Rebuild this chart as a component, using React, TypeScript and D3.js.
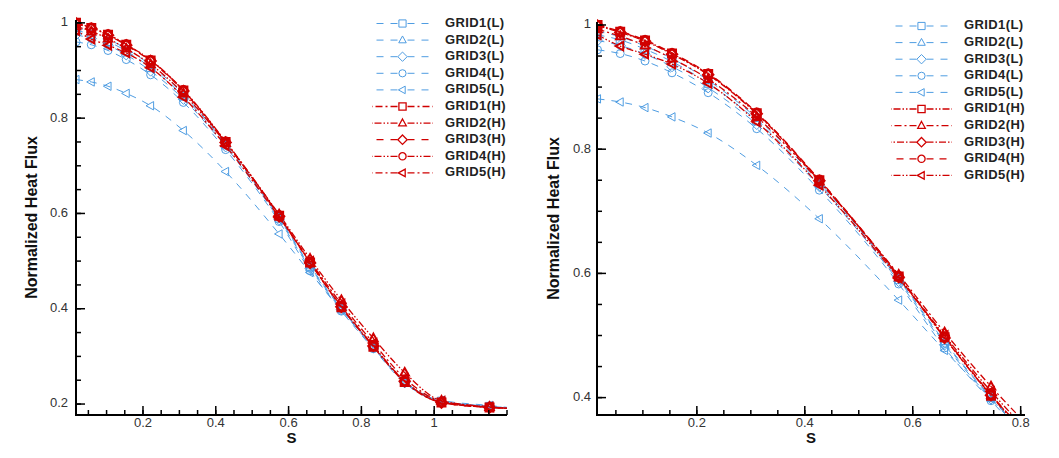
import React from "react";
import * as d3 from "d3";

// ---------- data ----------
const S = [0.016, 0.058, 0.104, 0.154, 0.221, 0.311, 0.427, 0.574, 0.659, 0.745, 0.833, 0.919, 1.02, 1.152, 1.2];

const grid1L = [0.984, 0.976, 0.961, 0.941, 0.906, 0.846, 0.744, 0.590, 0.488, 0.400, 0.320, 0.246, 0.206, 0.195, 0.192];
const grid2L = [0.990, 0.981, 0.966, 0.946, 0.911, 0.850, 0.747, 0.592, 0.490, 0.401, 0.321, 0.247, 0.206, 0.195, 0.192];
const grid3L = [0.975, 0.967, 0.953, 0.933, 0.899, 0.840, 0.740, 0.587, 0.485, 0.398, 0.318, 0.245, 0.205, 0.195, 0.192];
const grid4L = [0.960, 0.954, 0.942, 0.923, 0.891, 0.833, 0.734, 0.583, 0.480, 0.395, 0.316, 0.244, 0.205, 0.195, 0.192];
const grid5L = [0.881, 0.876, 0.867, 0.852, 0.826, 0.774, 0.688, 0.557, 0.476, 0.398, 0.320, 0.247, 0.208, 0.197, 0.193];
const grid1H = [1.000, 0.989, 0.975, 0.954, 0.921, 0.858, 0.750, 0.595, 0.497, 0.403, 0.320, 0.246, 0.203, 0.193, 0.191];
const grid2H = [0.993, 0.982, 0.967, 0.946, 0.913, 0.852, 0.748, 0.598, 0.505, 0.418, 0.338, 0.266, 0.207, 0.194, 0.191];
const grid3H = [0.999, 0.988, 0.974, 0.953, 0.920, 0.857, 0.749, 0.594, 0.496, 0.404, 0.322, 0.248, 0.203, 0.193, 0.191];
const grid4H = [1.000, 0.990, 0.976, 0.955, 0.922, 0.859, 0.751, 0.596, 0.498, 0.405, 0.322, 0.248, 0.204, 0.193, 0.191];
const grid5H = [0.984, 0.966, 0.953, 0.937, 0.906, 0.844, 0.742, 0.592, 0.500, 0.410, 0.328, 0.254, 0.206, 0.194, 0.191];

const seriesNames = ["GRID1(L)", "GRID2(L)", "GRID3(L)", "GRID4(L)", "GRID5(L)", "GRID1(H)", "GRID2(H)", "GRID3(H)", "GRID4(H)", "GRID5(H)"];
const seriesValues = [grid1L, grid2L, grid3L, grid4L, grid5L, grid1H, grid2H, grid3H, grid4H, grid5H];
const seriesMarkers = ["square", "triangle", "diamond", "circle", "ltriangle", "square", "triangle", "diamond", "circle", "ltriangle"];

const leftXTicks = [0.2, 0.4, 0.6, 0.8, 1];
const leftXLabels = ["0.2", "0.4", "0.6", "0.8", "1"];
const leftYTicks = [0.2, 0.4, 0.6, 0.8, 1];
const leftYLabels = ["0.2", "0.4", "0.6", "0.8", "1"];
const rightXTicks = [0.2, 0.4, 0.6, 0.8];
const rightXLabels = ["0.2", "0.4", "0.6", "0.8"];
const rightYTicks = [0.4, 0.6, 0.8, 1];
const rightYLabels = ["0.4", "0.6", "0.8", "1"];

// ---------- styles ----------
const BLUE = "#4f9de2";
const RED = "#d00000";
const FONT = "'Liberation Sans', Arial, sans-serif";
const blueDash = "7,7";
const leftRedDash = ["7,3,2,3", "7,2,1.5,2,1.5,2", "7,7", "7,2,1.5,2,1.5,2", "7,3,2,3"];
const rightRedDash = ["7,2,1.5,2,1.5,2", "7,3,2,3", "7,2,1.5,2", "7,6", "7,2,1.5,2,1.5,2"];

function markerPath(type: string, r: number): string {
  switch (type) {
    case "square":
      return `M${-r},${-r}H${r}V${r}H${-r}Z`;
    case "triangle":
      return `M0,${-r * 1.15}L${r * 1.05},${r * 0.75}L${-r * 1.05},${r * 0.75}Z`;
    case "diamond":
      return `M0,${-r * 1.3}L${r * 1.3},0L0,${r * 1.3}L${-r * 1.3},0Z`;
    case "ltriangle":
      return `M${-r * 1.15},0L${r * 0.75},${-r * 1.05}L${r * 0.75},${r * 1.05}Z`;
    default:
      return `M${-r},0A${r},${r} 0 1,0 ${r},0A${r},${r} 0 1,0 ${-r},0Z`;
  }
}

type PanelProps = {
  id: string;
  x0: number; x1: number; y0: number; y1: number;
  xDomain: [number, number]; yDomain: [number, number];
  xTicks: number[]; xLabels: string[]; yTicks: number[]; yLabels: string[];
  xMinorMax: number; yMinorMin: number;
  redDash: string[];
  legendX: number; legendY: number; labelGap: number; yTitleX: number;
};

function Panel(p: PanelProps) {
  const x = d3.scaleLinear().domain(p.xDomain).range([p.x0, p.x1]);
  const y = d3.scaleLinear().domain(p.yDomain).range([p.y1, p.y0]);
  const line = d3.line<[number, number]>().x((d) => x(d[0])).y((d) => y(d[1])).curve(d3.curveMonotoneX);

  const minorX = d3.range(0.05, p.xMinorMax + 1e-6, 0.05).filter((v) => x(v) > p.x0 + 2 && x(v) <= p.x1 + 0.5);
  const minorY = d3.range(p.yMinorMin, 1.0001, 0.05).filter((v) => y(v) >= p.y0 - 0.5 && y(v) < p.y1 - 2);

  const order = [0, 1, 2, 3, 4, 5, 6, 7, 8, 9];
  const styleOf = (i: number) => {
    const isRed = i >= 5;
    return {
      color: isRed ? RED : BLUE,
      dash: isRed ? p.redDash[i - 5] : blueDash,
      lw: isRed ? 1.3 : 1,
      mw: isRed ? 2 : 1,
    };
  };
  const clipId = `clip-${p.id}`;
  const r = 4;

  return (
    <g>
      <defs>
        <clipPath id={clipId}>
          <rect x={p.x0} y={p.y0 - 8} width={p.x1 - p.x0 + 6} height={p.y1 - p.y0 + 8} />
        </clipPath>
      </defs>
      <g clipPath={`url(#${clipId})`}>
        {order.map((i) => {
          const st = styleOf(i);
          const pts: [number, number][] = S.map((s, k) => [s, seriesValues[i][k]]);
          return (
            <path key={`l${i}`} d={line(pts) || ""} fill="none" stroke={st.color} strokeWidth={st.lw} strokeDasharray={st.dash} />
          );
        })}
        {order.map((i) => {
          const st = styleOf(i);
          return (
            <g key={`m${i}`}>
              {S.slice(0, S.length - 1).map((s, k) => {
                const v = seriesValues[i][k];
                if (s > p.xDomain[1] || v < p.yDomain[0]) return null;
                return (
                  <path key={k} d={markerPath(seriesMarkers[i], r)} transform={`translate(${x(s)},${y(v)})`}
                    fill="none" stroke={st.color} strokeWidth={st.mw} />
                );
              })}
            </g>
          );
        })}
      </g>
      <line x1={p.x0} x2={p.x0} y1={p.y0} y2={p.y1 + 1} stroke="#000" strokeWidth={2} />
      <line x1={p.x0 - 1} x2={p.x1} y1={p.y1} y2={p.y1} stroke="#000" strokeWidth={2} />
      {minorX.map((v, k) => (
        <line key={`mx${k}`} x1={x(v)} x2={x(v)} y1={p.y1} y2={p.y1 - 5} stroke="#000" strokeWidth={1.5} />
      ))}
      {p.xTicks.map((v, k) => (
        <g key={`xt${k}`}>
          <line x1={x(v)} x2={x(v)} y1={p.y1} y2={p.y1 - 9} stroke="#000" strokeWidth={1.5} />
          <text x={x(v)} y={p.y1 + 9} dominantBaseline="middle" textAnchor="middle" fontFamily={FONT} fontSize={13} fill="#333">{p.xLabels[k]}</text>
        </g>
      ))}
      {minorY.map((v, k) => (
        <line key={`my${k}`} x1={p.x0} x2={p.x0 + 5} y1={y(v)} y2={y(v)} stroke="#000" strokeWidth={1.5} />
      ))}
      {p.yTicks.map((v, k) => (
        <g key={`yt${k}`}>
          <line x1={p.x0} x2={p.x0 + 9} y1={y(v)} y2={y(v)} stroke="#000" strokeWidth={1.5} />
          <text x={p.x0 - p.labelGap} y={y(v)} dominantBaseline="middle" textAnchor="end" fontFamily={FONT} fontSize={13} fill="#333">{p.yLabels[k]}</text>
        </g>
      ))}
      <text x={(p.x0 + p.x1) / 2} y={p.y1 + 24} dominantBaseline="middle" textAnchor="middle" fontFamily={FONT} fontSize={15} fontWeight="bold" fill="#111">S</text>
      <text transform={`translate(${p.yTitleX},${(p.y0 + p.y1) / 2}) rotate(-90)`} dominantBaseline="middle" textAnchor="middle" fontFamily={FONT} fontSize={16} fontWeight="bold" fill="#111">Normalized Heat Flux</text>
      {seriesNames.map((name, i) => {
        const st = styleOf(i);
        const ly = p.legendY + i * 16.6;
        const lx0 = p.legendX;
        const lx1 = p.legendX + 61;
        const xm = (lx0 + lx1) / 2;
        return (
          <g key={`lg${i}`}>
            <path d={`M${xm - 5},${ly}H${lx0}`} stroke={st.color} strokeWidth={st.lw} strokeDasharray={st.dash} fill="none" />
            <path d={`M${xm + 5},${ly}H${lx1}`} stroke={st.color} strokeWidth={st.lw} strokeDasharray={st.dash} fill="none" />
            <path d={markerPath(seriesMarkers[i], 3.6)} transform={`translate(${xm},${ly})`} fill="none" stroke={st.color} strokeWidth={i >= 5 ? 1.3 : 1} />
            <text x={lx1 + 12} y={ly} dominantBaseline="middle" fontFamily={FONT} fontSize={13} fontWeight="bold" letterSpacing={0.4} fill="#222">{name}</text>
          </g>
        );
      })}
    </g>
  );
}

export default function App() {
  return (
    <svg width={1059} height={458} style={{ display: "block", position: "absolute", left: 0, top: 0, background: "#fff" }}>
      <rect x={0} y={0} width={1059} height={458} fill="#fff" />
      <Panel id="left" x0={76} x1={507} y0={20} y1={415} xDomain={[0.016, 1.2]} yDomain={[0.177, 1.006]}
        xTicks={leftXTicks} xLabels={leftXLabels} yTicks={leftYTicks} yLabels={leftYLabels}
        xMinorMax={1.2} yMinorMin={0.2} redDash={leftRedDash}
        legendX={372} legendY={23.5} labelGap={8} yTitleX={33} />
      <Panel id="right" x0={597} x1={1025} y0={22} y1={415} xDomain={[0.015, 0.808]} yDomain={[0.372, 1.0048]}
        xTicks={rightXTicks} xLabels={rightXLabels} yTicks={rightYTicks} yLabels={rightYLabels}
        xMinorMax={0.8} yMinorMin={0.4} redDash={rightRedDash}
        legendX={891} legendY={26} labelGap={6} yTitleX={555} />
    </svg>
  );
}
